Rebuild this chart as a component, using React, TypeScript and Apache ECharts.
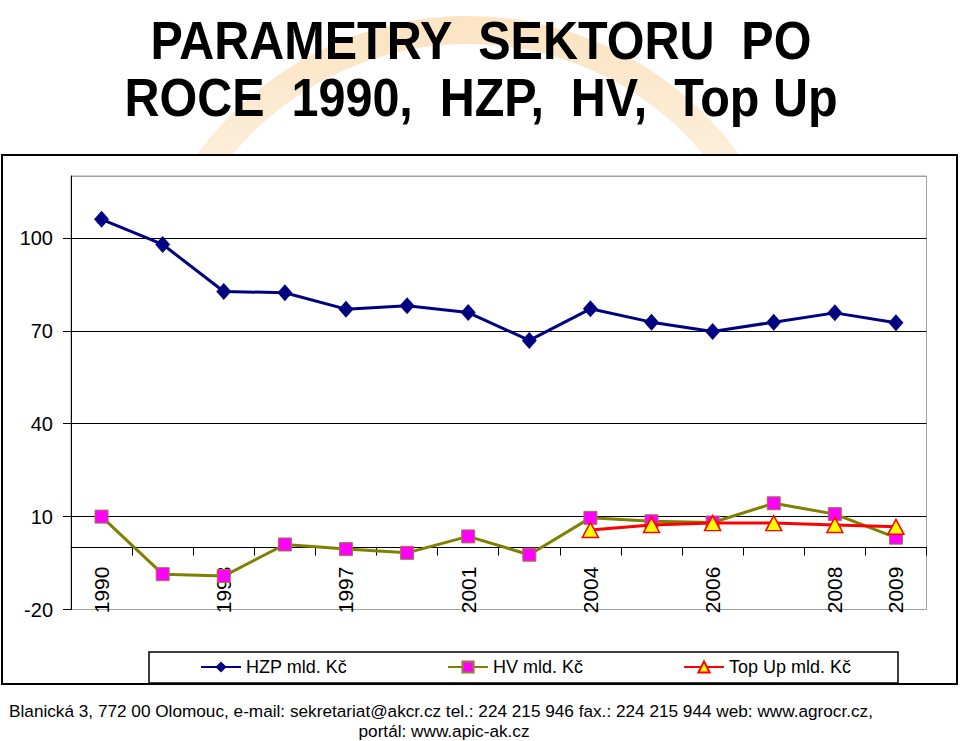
import React, { useEffect, useRef } from "react";
import * as echarts from "echarts";

const categories = ["1990", "1992", "1993", "1995", "1997", "1999", "2001", "2003", "2004", "2005", "2006", "2007", "2008", "2009"];
const shownLabelIdx = [0, 2, 4, 6, 8, 10, 12, 13];
const hzp = [106.0, 97.9, 82.7, 82.3, 77.0, 78.1, 75.9, 66.9, 77.1, 72.8, 69.8, 72.8, 75.8, 72.6];
const hv = [10.0, -8.6, -9.2, 1.0, -0.5, -1.7, 3.6, -2.3, 9.6, 8.5, 8.1, 14.3, 10.8, 3.2];
const topUp = [null, null, null, null, null, null, null, null, 5.7, 7.3, 7.9, 7.9, 7.3, 6.7];
const seriesNames = ["HZP mld. Kč", "HV mld. Kč", "Top Up mld. Kč"];
const titleLines = ["PARAMETRY  SEKTORU  PO", "ROCE  1990,  HZP,  HV,  Top Up"];
const footerLines = [
  "Blanická 3, 772 00 Olomouc, e-mail: sekretariat@akcr.cz tel.: 224 215 946 fax.: 224 215 944 web: www.agrocr.cz,",
  "portál: www.apic-ak.cz",
];

const FONT = '"Liberation Sans", Arial, Helvetica, sans-serif';
const Y_MIN = -20;
const Y_MAX = 120;
const GRID_TOP = 176;
const GRID_BOTTOM = 131.5;
const CHART_H = 741;

export default function App() {
  const ref = useRef<HTMLDivElement>(null);
  useEffect(() => {
    document.body.style.margin = "0";
    if (!ref.current) return;
    const chart = echarts.init(ref.current, null, { renderer: "svg" });
    const gridH = CHART_H - GRID_TOP - GRID_BOTTOM;
    // shift the category axis up to the zero line (ticks + labels follow it)
    const zeroOffset = -(gridH * (0 - Y_MIN)) / (Y_MAX - Y_MIN);
    const option: any = {
      animation: false,
      backgroundColor: "#fff",
      grid: {
        left: 71,
        right: 33.5,
        top: GRID_TOP,
        bottom: GRID_BOTTOM,
        show: true,
        borderColor: "#a0a0a0",
        borderWidth: 1,
        containLabel: false,
      },
      legend: {
        left: 200,
        top: 658,
        padding: 0,
        itemWidth: 40,
        itemHeight: 14,
        itemGap: 100,
        data: seriesNames,
        textStyle: { fontSize: 18, color: "#000", fontFamily: FONT },
      },
      xAxis: {
        type: "category",
        data: categories,
        boundaryGap: true,
        offset: zeroOffset,
        axisLine: { onZero: false, lineStyle: { color: "#000", width: 1 } },
        axisTick: { show: true, interval: 0, length: 8, lineStyle: { color: "#000" } },
        axisLabel: {
          rotate: 90,
          interval: (i: number) => shownLabelIdx.includes(i),
          margin: 19,
          fontSize: 21,
          color: "#000",
          fontFamily: FONT,
        },
        splitLine: { show: false },
      },
      yAxis: {
        type: "value",
        min: Y_MIN,
        max: Y_MAX,
        interval: 30,
        axisLine: { show: true, lineStyle: { color: "#000", width: 1 } },
        axisTick: { show: true, length: 8, lineStyle: { color: "#000" } },
        axisLabel: { fontSize: 20, color: "#000", margin: 18, showMaxLabel: false, fontFamily: FONT },
        splitLine: {
          show: true,
          lineStyle: { color: ["#a0a0a0", "#000", "#000", "#000", "#000", "#a0a0a0"], width: 1.2 },
        },
      },
      series: [
        {
          name: seriesNames[0],
          type: "line",
          data: hzp,
          symbol: "diamond",
          symbolSize: [15, 17],
          lineStyle: { color: "#000080", width: 3 },
          itemStyle: { color: "#000080" },
          z: 3,
        },
        {
          name: seriesNames[1],
          type: "line",
          data: hv,
          symbol: "rect",
          symbolSize: 13,
          lineStyle: { color: "#808000", width: 3 },
          itemStyle: { color: "#FF00FF", borderColor: "#9a7d35", borderWidth: 1 },
          z: 4,
        },
        {
          name: seriesNames[2],
          type: "line",
          data: topUp,
          symbol: "triangle",
          symbolSize: [16, 15],
          lineStyle: { color: "#FF0000", width: 3 },
          itemStyle: { color: "#FFFF00", borderColor: "#FF0000", borderWidth: 1.5 },
          z: 5,
        },
      ],
      graphic: [
        {
          type: "arc",
          z: -20,
          silent: true,
          shape: { cx: 468, cy: 350, r: 320, startAngle: Math.PI, endAngle: Math.PI * 2, clockwise: true },
          style: {
            fill: "none",
            lineWidth: 28,
            stroke: {
              type: "linear",
              x: 0,
              y: 0,
              x2: 0,
              y2: 1,
              colorStops: [
                { offset: 0, color: "rgba(244,170,70,0.32)" },
                { offset: 0.5, color: "rgba(245,180,90,0.2)" },
                { offset: 1, color: "rgba(245,180,90,0.12)" },
              ],
            },
          },
        },
        {
          type: "rect",
          z: -10,
          silent: true,
          shape: { x: 2, y: 155, width: 955, height: 529 },
          style: { fill: "#fff", stroke: "#000", lineWidth: 2 },
        },
        {
          type: "rect",
          z: -9,
          silent: true,
          shape: { x: 149, y: 652, width: 749, height: 31 },
          style: { fill: "#fff", stroke: "#000", lineWidth: 1.5 },
        },
        {
          type: "text",
          x: 481,
          y: 41,
          scaleX: 0.915,
          style: {
            text: titleLines[0],
            fontSize: 53,
            fontWeight: "bold",
            fontFamily: FONT,
            fill: "#000",
            align: "center",
            textAlign: "center",
            verticalAlign: "middle",
            textVerticalAlign: "middle",
          },
        },
        {
          type: "text",
          x: 481,
          y: 98,
          scaleX: 0.915,
          style: {
            text: titleLines[1],
            fontSize: 53,
            fontWeight: "bold",
            fontFamily: FONT,
            fill: "#000",
            align: "center",
            textAlign: "center",
            verticalAlign: "middle",
            textVerticalAlign: "middle",
          },
        },
        {
          type: "text",
          x: 441,
          y: 711,
          style: {
            text: footerLines[0],
            fontSize: 17.2,
            fontFamily: FONT,
            fill: "#000",
            align: "center",
            textAlign: "center",
            verticalAlign: "middle",
            textVerticalAlign: "middle",
          },
        },
        {
          type: "text",
          x: 444,
          y: 731,
          style: {
            text: footerLines[1],
            fontSize: 17.2,
            fontFamily: FONT,
            fill: "#000",
            align: "center",
            textAlign: "center",
            verticalAlign: "middle",
            textVerticalAlign: "middle",
          },
        },
      ],
    };
    chart.setOption(option);
    return () => chart.dispose();
  }, []);
  return <div ref={ref} style={{ position: "absolute", left: 0, top: 0, width: 960, height: 741 }} />;
}
